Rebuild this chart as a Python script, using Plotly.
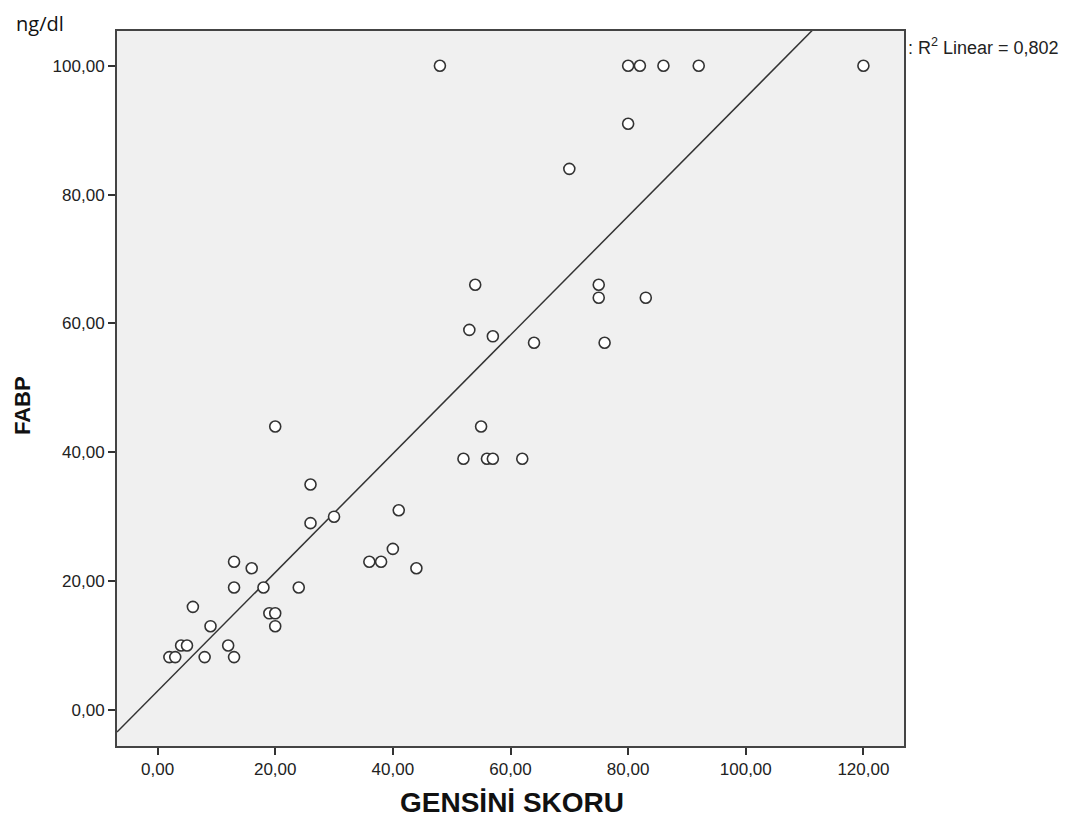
import numpy as np
import plotly.graph_objects as go

# Data
gensini = [48, 80, 82, 86, 92, 120, 80, 70,
           54, 75, 75, 83, 53, 57, 64, 76,
           55, 52, 56, 57, 62,
           20, 26, 26, 30, 41, 40, 36, 38, 44, 24,
           13, 16, 13, 18, 6, 19, 20, 20, 9,
           4, 5, 12, 2, 3, 8, 13]
fabp = [100, 100, 100, 100, 100, 100, 91, 84,
        66, 66, 64, 64, 59, 58, 57, 57,
        44, 39, 39, 39, 39,
        44, 35, 29, 30, 31, 25, 23, 23, 22, 19,
        23, 22, 19, 19, 16, 15, 15, 13, 13,
        10, 10, 10, 8.2, 8.2, 8.2, 8.2]

x_ticks = [0, 20, 40, 60, 80, 100, 120]
y_ticks = [0, 20, 40, 60, 80, 100]
x_range = [-6.9, 126.9]
y_range = [-5.6, 105.4]
r2_text = "0,802"

xa = np.array(gensini, dtype=float)
ya = np.array(fabp, dtype=float)
slope, intercept = np.polyfit(xa, ya, 1)
lx = np.array(x_range)
ly = intercept + slope * lx

fig = go.Figure()
fig.add_trace(go.Scatter(
    x=lx, y=ly, mode="lines",
    line=dict(color="#333333", width=1.5),
    hoverinfo="skip", showlegend=False))
fig.add_trace(go.Scatter(
    x=gensini, y=fabp, mode="markers",
    marker=dict(symbol="circle", size=11, color="white",
                line=dict(color="#333333", width=1.6)),
    showlegend=False))

SANS = "Liberation Sans, Arial, sans-serif"
axis_font = dict(family=SANS, size=17, color="#222222")
fig.update_layout(
    width=1074, height=821,
    margin=dict(l=109, r=178, t=23, b=83),
    paper_bgcolor="white", plot_bgcolor="#f0f0f0",
    separators=",.",
    font=axis_font,
    xaxis=dict(range=x_range, tickvals=x_ticks, tickformat=".2f",
               showgrid=False, zeroline=False, ticks="outside", ticklen=7,
               tickwidth=2, tickcolor="#333333",
               showline=True, linecolor="#444444", linewidth=2, mirror=True),
    yaxis=dict(range=y_range, tickvals=y_ticks, tickformat=".2f",
               showgrid=False, zeroline=False, ticks="outside", ticklen=7,
               tickwidth=2, tickcolor="#333333",
               showline=True, linecolor="#444444", linewidth=2, mirror=True),
)

fig.add_annotation(xref="paper", yref="paper", x=0.502, y=-0.0797,
                   xanchor="center", yanchor="middle", showarrow=False,
                   text="<b>GENSİNİ SKORU</b>",
                   font=dict(family=SANS, size=28, color="#111111"))
fig.add_annotation(xref="paper", yref="paper", x=-0.1207, y=0.4755,
                   xanchor="center", yanchor="middle", showarrow=False,
                   textangle=-90, text="<b>FABP</b>",
                   font=dict(family=SANS, size=22, color="#111111"))
fig.add_annotation(xref="paper", yref="paper", x=1.003, y=0.978,
                   xanchor="left", yanchor="middle", showarrow=False,
                   text=": R<sup>2</sup> Linear = " + r2_text,
                   font=dict(family=SANS, size=18, color="#222222"))
fig.add_annotation(xref="paper", yref="paper", x=-0.129, y=1.011,
                   xanchor="left", yanchor="middle", showarrow=False,
                   borderpad=0,
                   text="ng/dl",
                   font=dict(family="Open Sans, Noto Sans, sans-serif", size=20, color="#111111"))

fig.write_html("out.html")
